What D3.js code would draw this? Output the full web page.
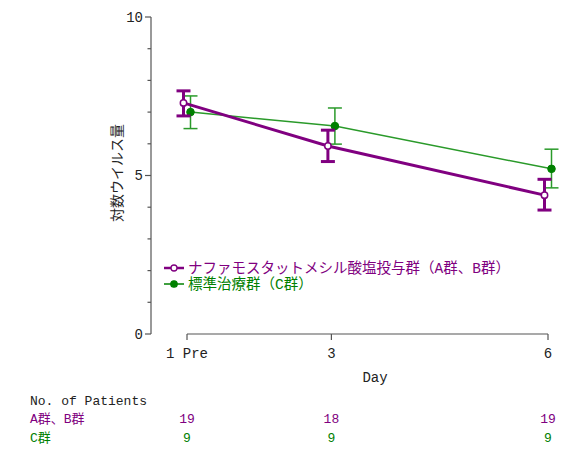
<!DOCTYPE html>
<html>
<head>
<meta charset="utf-8">
<script src="https://cdn.jsdelivr.net/npm/d3@7"></script>
<style>
  body { margin: 0; background: #fff; }
  text { font-family: "Liberation Mono", "Noto Sans CJK JP", monospace; }
</style>
</head>
<body>
<div id="chart"></div>
<script>
// days on x axis
const days = [1, 3, 6];
const dayLabels = ["1 Pre", "3", "6"];
const yTicks = [0, 5, 10];

// ナファモスタット (A群、B群)
const groupABMean = [7.29, 5.93, 4.38];
const groupABUpper = [7.67, 6.43, 4.88];
const groupABLower = [6.88, 5.44, 3.91];

// 標準治療 (C群)
const groupCMean = [7.0, 6.56, 5.21];
const groupCUpper = [7.51, 7.13, 5.83];
const groupCLower = [6.48, 5.99, 4.61];

const patientsAB = [19, 18, 19];
const patientsC = [9, 9, 9];

const purple = "#800080";
const green = "#008000";
const greenLine = "#2a9a2a";
const axisColor = "#555";

const width = 587, height = 453;

const svg = d3.select("#chart").append("svg")
  .attr("width", width)
  .attr("height", height);

const x = d3.scaleLinear().domain([1, 6]).range([187, 548]);
const y = d3.scaleLinear().domain([0, 10]).range([334, 17]);

// y axis
const yAxisG = svg.append("g").attr("transform", "translate(151,0)");
yAxisG.append("line")
  .attr("x1", 0).attr("x2", 0)
  .attr("y1", y(10)).attr("y2", y(0))
  .attr("stroke", axisColor).attr("stroke-width", 1.2);
yAxisG.selectAll(".minor")
  .data(d3.range(0, 11))
  .enter().append("line")
  .attr("x1", (d) => (d % 5 === 0 ? -6 : -3.5))
  .attr("x2", 0)
  .attr("y1", (d) => y(d)).attr("y2", (d) => y(d))
  .attr("stroke", axisColor).attr("stroke-width", 1.2);
yAxisG.selectAll(".lbl")
  .data(yTicks)
  .enter().append("text")
  .attr("x", -8)
  .attr("y", (d) => y(d))
  .attr("dy", "0.35em")
  .attr("text-anchor", "end")
  .style("font-size", "14px")
  .attr("fill", "#222")
  .text((d) => d);

svg.append("text")
  .attr("transform", "translate(117,173) rotate(-90)")
  .attr("text-anchor", "middle")
  .attr("dy", "0.35em")
  .style("font-size", "14px")
  .attr("fill", "#222")
  .text("対数ウイルス量");

// x axis
const xAxisG = svg.append("g").attr("transform", "translate(0,334)");
xAxisG.append("line")
  .attr("x1", x(1)).attr("x2", x(6))
  .attr("y1", 0).attr("y2", 0)
  .attr("stroke", axisColor).attr("stroke-width", 1.2);
xAxisG.selectAll(".tick")
  .data(days)
  .enter().append("line")
  .attr("x1", (d) => x(d)).attr("x2", (d) => x(d))
  .attr("y1", 0).attr("y2", 6)
  .attr("stroke", axisColor).attr("stroke-width", 1.2);
xAxisG.selectAll(".lbl")
  .data(days)
  .enter().append("text")
  .attr("x", (d) => x(d))
  .attr("y", 19)
  .attr("dy", "0.35em")
  .attr("text-anchor", "middle")
  .style("font-size", "14px")
  .attr("fill", "#222")
  .text((d, i) => dayLabels[i]);

svg.append("text")
  .attr("x", 375).attr("y", 377)
  .attr("dy", "0.35em")
  .attr("text-anchor", "middle")
  .style("font-size", "14px")
  .attr("fill", "#222")
  .text("Day");

// series
const series = [
  { mean: groupCMean, upper: groupCUpper, lower: groupCLower, dx: 3.5,
    color: green, lineColor: greenLine, width: 1.5, open: false },
  { mean: groupABMean, upper: groupABUpper, lower: groupABLower, dx: -3.5,
    color: purple, lineColor: purple, width: 3, open: true },
];

series.forEach((s) => {
  const pts = days.map((d, i) => ({ d: d, m: s.mean[i], u: s.upper[i], l: s.lower[i] }));
  const g = svg.append("g");
  const line = d3.line().x((p) => x(p.d) + s.dx).y((p) => y(p.m));
  g.append("path")
    .attr("d", line(pts))
    .attr("fill", "none")
    .attr("stroke", s.lineColor)
    .attr("stroke-width", s.width);

  const eb = g.selectAll(".eb").data(pts).enter().append("g");
  eb.append("line")
    .attr("x1", (p) => x(p.d) + s.dx).attr("x2", (p) => x(p.d) + s.dx)
    .attr("y1", (p) => y(p.u)).attr("y2", (p) => y(p.l))
    .attr("stroke", s.lineColor).attr("stroke-width", s.width);
  ["u", "l"].forEach((k) => {
    eb.append("line")
      .attr("x1", (p) => x(p.d) + s.dx - 7).attr("x2", (p) => x(p.d) + s.dx + 7)
      .attr("y1", (p) => y(p[k])).attr("y2", (p) => y(p[k]))
      .attr("stroke", s.lineColor).attr("stroke-width", s.width);
  });
  g.selectAll(".pt").data(pts).enter().append("circle")
    .attr("cx", (p) => x(p.d) + s.dx)
    .attr("cy", (p) => y(p.m))
    .attr("r", s.open ? 3.2 : 3.8)
    .attr("fill", s.open ? "#fff" : s.color)
    .attr("stroke", s.color)
    .attr("stroke-width", s.open ? 1.5 : 1);
});

// legend
const legendItems = [
  { label: "ナファモスタットメシル酸塩投与群（A群、B群）", color: purple, open: true, w: 2.5, y: 268 },
  { label: "標準治療群（C群）", color: green, open: false, w: 1.5, y: 284 },
];
const lg = svg.append("g");
legendItems.forEach((it) => {
  lg.append("line")
    .attr("x1", 164).attr("x2", 184)
    .attr("y1", it.y).attr("y2", it.y)
    .attr("stroke", it.color).attr("stroke-width", it.w);
  lg.append("circle")
    .attr("cx", 174).attr("cy", it.y)
    .attr("r", it.open ? 3 : 3.2)
    .attr("fill", it.open ? "#fff" : it.color)
    .attr("stroke", it.color).attr("stroke-width", 1.3);
  lg.append("text")
    .attr("x", 188).attr("y", it.y)
    .attr("dy", "0.35em")
    .style("font-size", "14.5px")
    .attr("fill", it.color)
    .text(it.label);
});

// patient table
svg.append("text")
  .attr("x", 30).attr("y", 400)
  .attr("dy", "0.35em")
  .style("font-size", "13px")
  .attr("fill", "#222")
  .text("No. of Patients");

const rows = [
  { label: "A群、B群", values: patientsAB, color: purple, y: 418 },
  { label: "C群", values: patientsC, color: green, y: 437 },
];
rows.forEach((r) => {
  svg.append("text")
    .attr("x", 30).attr("y", r.y)
    .attr("dy", "0.35em")
    .style("font-size", "13px")
    .attr("fill", r.color)
    .text(r.label);
  svg.selectAll(null)
    .data(days)
    .enter().append("text")
    .attr("x", (d) => x(d))
    .attr("y", r.y)
    .attr("dy", "0.35em")
    .attr("text-anchor", "middle")
    .style("font-size", "13px")
    .attr("fill", r.color)
    .text((d, i) => r.values[i]);
});
</script>
</body>
</html>
